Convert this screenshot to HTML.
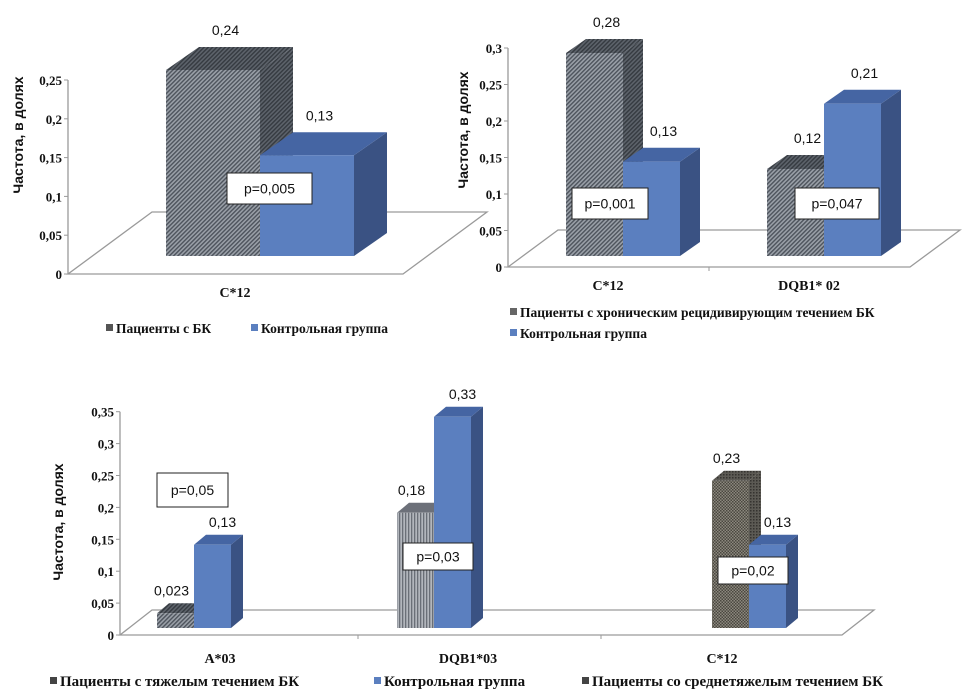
<!DOCTYPE html>
<html><head><meta charset="utf-8"><style>
html,body{margin:0;padding:0;background:#fff;}
svg{display:block;}
.tick{font-family:"Liberation Serif",serif;font-weight:bold;font-size:13px;fill:#111;}
.val{font-family:"Liberation Sans",sans-serif;font-size:14px;fill:#111;}
.cat{font-family:"Liberation Serif",serif;font-weight:bold;font-size:14px;fill:#111;}
.leg{font-family:"Liberation Serif","Noto Serif CJK SC",serif;font-weight:bold;font-size:13.5px;fill:#111;}
.ttl{font-family:"Liberation Sans",sans-serif;font-weight:bold;font-size:14px;fill:#111;}
.pv{font-family:"Liberation Sans",sans-serif;font-size:14px;fill:#111;}
</style></head><body>
<svg id="root" width="975" height="697" viewBox="0 0 975 697" xmlns="http://www.w3.org/2000/svg">
<defs>
<pattern id="hatchA" width="3" height="3" patternUnits="userSpaceOnUse" patternTransform="rotate(45)"><rect width="3" height="3" fill="#9aa0a8"/><rect width="1.4" height="3" fill="#4d535c"/></pattern>
<pattern id="hatchAd" width="3" height="3" patternUnits="userSpaceOnUse" patternTransform="rotate(45)"><rect width="3" height="3" fill="#5d636b"/><rect width="1.4" height="3" fill="#353a40"/></pattern>
<pattern id="hatchB" width="3" height="3" patternUnits="userSpaceOnUse"><rect width="3" height="3" fill="#b2b6bc"/><rect width="1.3" height="3" fill="#6a6f77"/></pattern>
<pattern id="hatchC" width="3" height="3" patternUnits="userSpaceOnUse"><rect width="3" height="3" fill="#8c887e"/><rect width="1.5" height="1.5" fill="#4a4740"/><rect x="1.5" y="1.5" width="1.5" height="1.5" fill="#4a4740"/></pattern>
<pattern id="hatchCd" width="3" height="3" patternUnits="userSpaceOnUse"><rect width="3" height="3" fill="#5c5a54"/><rect width="1.5" height="1.5" fill="#35332f"/></pattern>
</defs>
</svg>
<script>
// ---- chart data ----
const c1Categories = ["C*12"];
const c1Patients = [0.24];
const c1Control = [0.13];
const c1Ticks = ["0","0,05","0,1","0,15","0,2","0,25"];
const c1PatientLabels = ["0,24"];
const c1ControlLabels = ["0,13"];

const c2Categories = ["C*12","DQB1* 02"];
const c2Patients = [0.28,0.12];
const c2Control = [0.13,0.21];
const c2Ticks = ["0","0,05","0,1","0,15","0,2","0,25","0,3"];
const c2PatientLabels = ["0,28","0,12"];
const c2ControlLabels = ["0,13","0,21"];

const c3Categories = ["A*03","DQB1*03","C*12"];
const c3Patients = [0.023,0.18,0.23];
const c3Control = [0.13,0.33,0.13];
const c3Ticks = ["0","0,05","0,1","0,15","0,2","0,25","0,3","0,35"];
const c3PatientLabels = ["0,023","0,18","0,23"];
const c3ControlLabels = ["0,13","0,33","0,13"];

const NS = "http://www.w3.org/2000/svg";
const root = document.getElementById("root");
function mk(tag, attrs, parent, txt){
  const e = document.createElementNS(NS, tag);
  for (const k in attrs) e.setAttribute(k, attrs[k]);
  if (txt !== undefined) e.textContent = txt;
  (parent||root).appendChild(e);
  return e;
}

function drawChart(cfg, cats, pat, ctl, ticks, patLab, ctlLab){
  const g = mk("g", {});
  
  
  const yAxis = v => cfg.y0 - v * cfg.axisScale;
  const yBar = v => cfg.barBase - v * cfg.barScale;
  const fl = mk("polygon", {points:
    `${cfg.ax},${cfg.y0} ${cfg.fr},${cfg.y0} ${cfg.fr+cfg.fdx},${cfg.y0+cfg.fdy} ${cfg.ax+cfg.fdx},${cfg.y0+cfg.fdy}`,
    fill:"none", stroke:"#9a9a9a", "stroke-width":1.3}, g);
  
  
  const ya = mk("line", {x1:cfg.ax, y1:cfg.y0, x2:cfg.ax, y2:yAxis(cfg.step*(ticks.length-1)), stroke:"#9a9a9a","stroke-width":1.3}, g);
  
  
  ticks.forEach((t,i)=>{
    const y = yAxis(i*cfg.step);
    mk("line",{x1:cfg.ax-4,y1:y,x2:cfg.ax,y2:y,stroke:"#9a9a9a"},g);
    const tl = mk("text",{x:cfg.ax-6,y:y+5,"text-anchor":"end",class:"tick"},g,t);
    
    
  });
  (cfg.sepTicks||[]).forEach(x=>mk("line",{x1:x,y1:cfg.y0,x2:x,y2:cfg.y0+4,stroke:"#9a9a9a"},g));
  const tt = mk("text",{x:0,y:0,"text-anchor":"middle",class:"ttl",transform:`translate(${cfg.titleX},${cfg.titleY}) rotate(-90)`},g,"Частота,  в долях");
  
  
  cats.forEach((c,i)=>{
    const left = cfg.groupLeft[i];
    const series = [
      {v:pat[i], x:left, front:cfg.patFront[i], top:cfg.patTop[i], side:cfg.patSide[i], lab:patLab[i], n:'patient-bar', ld:cfg.patLabDx},
      {v:ctl[i], x:left+cfg.bw, front:"#5b7fbf", top:"#4565a3", side:"#3a5283", lab:ctlLab[i], n:'control-bar', ld:cfg.labDx}
    ];
    series.forEach(s=>{
      const yt = yBar(s.v), yb = cfg.barBase, x0 = s.x, x1 = s.x + cfg.bw, dx = cfg.bdx, dy = cfg.bdy;
      const bg = mk("g",{},g);
      
      
      mk("polygon",{points:`${x1},${yt} ${x1+dx},${yt+dy} ${x1+dx},${yb+dy} ${x1},${yb}`,fill:s.side},bg);
      mk("polygon",{points:`${x0},${yt} ${x0+dx},${yt+dy} ${x1+dx},${yt+dy} ${x1},${yt}`,fill:s.top},bg);
      mk("rect",{x:x0,y:yt,width:cfg.bw,height:yb-yt,fill:s.front},bg);
      const vl = mk("text",{x:(x0+x1)/2+dx/2+s.ld,y:yt+dy-cfg.labGap,"text-anchor":"middle",class:"val"},g,s.lab);
      
      
    });
    const cl = mk("text",{x:cfg.catX[i],y:cfg.catY,"text-anchor":"middle",class:"cat"},g,c);
    
    
  });
  cfg.pBoxes.forEach(p=>{
    const pb = mk("g",{},g);
    
    
    mk("rect",{x:p[0],y:p[1],width:p[2]-p[0],height:p[3]-p[1],fill:"#fff",stroke:"#222","stroke-width":1},pb);
    mk("text",{x:p[0]+(p[2]-p[0])/2,y:(p[1]+p[3])/2+5,"text-anchor":"middle",class:"pv"},pb,p[4]);
  });
  cfg.legend.forEach(l=>{
    const lg = mk("g",{},g);
    
    
    mk("rect",{x:l[0],y:l[1]-9,width:7,height:7,fill:l[2]},lg);
    const a = {x:l[0]+10,y:l[1],class:"leg"};
    if (l[4]) a.style = "font-size:" + l[4] + "px";
    mk("text",a,lg,l[3]);
  });
}

drawChart({name:"chart-c12-overall", ax:68, y0:274, axisScale:776, step:0.05, fr:403, fdx:84, fdy:-62,
  barBase:256, barScale:775, bw:94, bdx:33, bdy:-23, labDx:-4, patLabDx:-4, labGap:12,
  groupLeft:[166], patFront:["url(#hatchA)"], patTop:["url(#hatchAd)"], patSide:["url(#hatchAd)"],
  catX:[235], catY:297, titleX:23, titleY:135,
  pBoxes:[[227,173,312,204,"p=0,005"]],
  legend:[[106,333,"#555","Пациенты с БК"],[251,333,"#5b7fbf","Контрольная группа"]]},
  c1Categories, c1Patients, c1Control, c1Ticks, c1PatientLabels, c1ControlLabels);

drawChart({name:"chart-chronic", ax:508, y0:267, axisScale:730, step:0.05, fr:910, fdx:50, fdy:-37,
  barBase:256, barScale:725, bw:57, bdx:20, bdy:-14, labDx:2, patLabDx:2, labGap:12,
  groupLeft:[566,767], patFront:["url(#hatchA)","url(#hatchA)"], patTop:["url(#hatchAd)","url(#hatchAd)"], patSide:["url(#hatchAd)","url(#hatchAd)"],
  catX:[608,809], catY:290, titleX:468, titleY:130, sepTicks:[709],
  pBoxes:[[572,188,648,219,"p=0,001"],[795,188,879,219,"p=0,047"]],
  legend:[[510,317,"#666","Пациенты с хроническим рецидивирующим течением БК"],[510,338,"#5b7fbf","Контрольная группа"]]},
  c2Categories, c2Patients, c2Control, c2Ticks, c2PatientLabels, c2ControlLabels);

drawChart({name:"chart-severity", ax:120, y0:635, axisScale:638, step:0.05, fr:842, fdx:32, fdy:-25,
  barBase:628, barScale:640, bw:37, bdx:12, bdy:-10, labDx:4, patLabDx:-10, labGap:8,
  groupLeft:[157,397,712], patFront:["url(#hatchA)","url(#hatchB)","url(#hatchC)"], patTop:["url(#hatchAd)","#6c7079","url(#hatchCd)"], patSide:["url(#hatchAd)","#6c7079","url(#hatchCd)"],
  catX:[220,468,722], catY:663, titleX:63, titleY:522, sepTicks:[358,601],
  pBoxes:[[157,473,228,507,"p=0,05"],[403,543,473,570,"p=0,03"],[718,557,788,584,"p=0,02"]],
  legend:[[50,686,"#444","Пациенты с тяжелым течением БК",15],[374,686,"#5b7fbf","Контрольная группа",15],[582,686,"#444","Пациенты со среднетяжелым течением БК",15]]},
  c3Categories, c3Patients, c3Control, c3Ticks, c3PatientLabels, c3ControlLabels);
</script>
</body></html>
